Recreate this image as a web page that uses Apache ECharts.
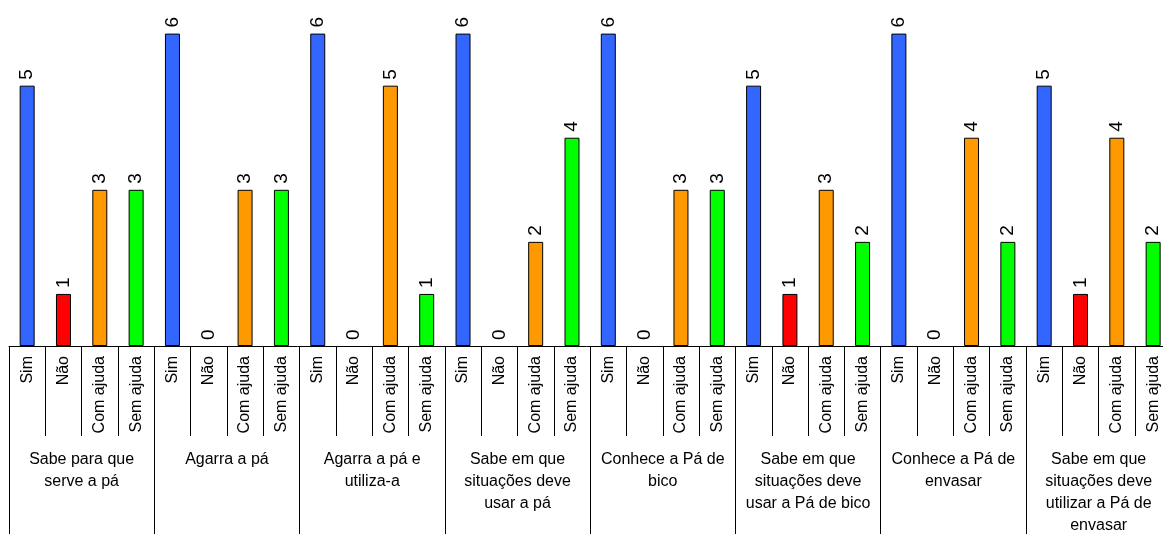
<!DOCTYPE html>
<html>
<head>
<meta charset="utf-8">
<script src="https://cdn.jsdelivr.net/npm/echarts@6/dist/echarts.min.js"></script>
<style>
html,body{margin:0;padding:0;background:#fff;}
#chart{width:1163px;height:534px;}
</style>
</head>
<body>
<div id="chart"></div>
<script>
const groups = [
  "Sabe para que\nserve a pá",
  "Agarra a pá",
  "Agarra a pá e\nutiliza-a",
  "Sabe em que\nsituações deve\nusar a pá",
  "Conhece a Pá de\nbico",
  "Sabe em que\nsituações deve\nusar a Pá de bico",
  "Conhece a Pá de\nenvasar",
  "Sabe em que\nsituações deve\nutilizar a Pá de\nenvasar"
];
const subcats = ["Sim", "Não", "Com ajuda", "Sem ajuda"];
const sim      = [5, 6, 6, 6, 6, 5, 6, 5];
const nao      = [1, 0, 0, 0, 0, 1, 0, 1];
const comAjuda = [3, 3, 5, 2, 3, 3, 4, 4];
const semAjuda = [3, 3, 1, 4, 3, 2, 2, 2];
const colors = ["#3366FF", "#FF0000", "#FF9900", "#00FF00"];

const seriesValues = [sim, nao, comAjuda, semAjuda];
const cats = [];
const data = [];
groups.forEach((g, gi) => {
  subcats.forEach((s, si) => {
    const v = seriesValues[si][gi];
    cats.push(s);
    data.push({ value: v, itemStyle: { color: colors[si], borderWidth: v === 0 ? 0 : 1 } });
  });
});

const font = "Liberation Sans, Arial, sans-serif";
const chart = echarts.init(document.getElementById('chart'), null, { renderer: 'canvas' });
chart.setOption({
  animation: false,
  backgroundColor: '#fff',
  grid: { left: 9, width: 1162.3, top: 33.6, height: 312.4, containLabel: false, outerBoundsMode: 'none' },
  xAxis: [
    {
      type: 'category',
      data: cats,
      boundaryGap: true,
      axisLine: { show: true, lineStyle: { color: '#000', width: 1 } },
      axisTick: { show: true, interval: 0, length: 90, lineStyle: { color: '#000', width: 1 } },
      axisLabel: { interval: 0, rotate: 90, margin: 10, fontSize: 16, color: '#000', fontFamily: font }
    },
    {
      type: 'category',
      data: groups,
      position: 'bottom',
      boundaryGap: true,
      axisLine: { show: false },
      axisTick: { show: true, interval: 0, length: 200, lineStyle: { color: '#000', width: 1 } },
      axisLabel: { interval: 0, margin: 103, fontSize: 16, lineHeight: 22, color: '#000', fontFamily: font, align: 'center' }
    }
  ],
  yAxis: {
    type: 'value', min: 0, max: 6,
    show: false,
    splitLine: { show: false }
  },
  series: [{
    type: 'bar',
    xAxisIndex: 0,
    data: data,
    barWidth: 15,
    itemStyle: { borderColor: '#000', borderWidth: 1 },
    label: {
      show: true, position: 'top', rotate: 90, distance: 6,
      align: 'left', verticalAlign: 'middle',
      fontSize: 19, color: '#000', fontFamily: font
    }
  }]
});
</script>
</body>
</html>
